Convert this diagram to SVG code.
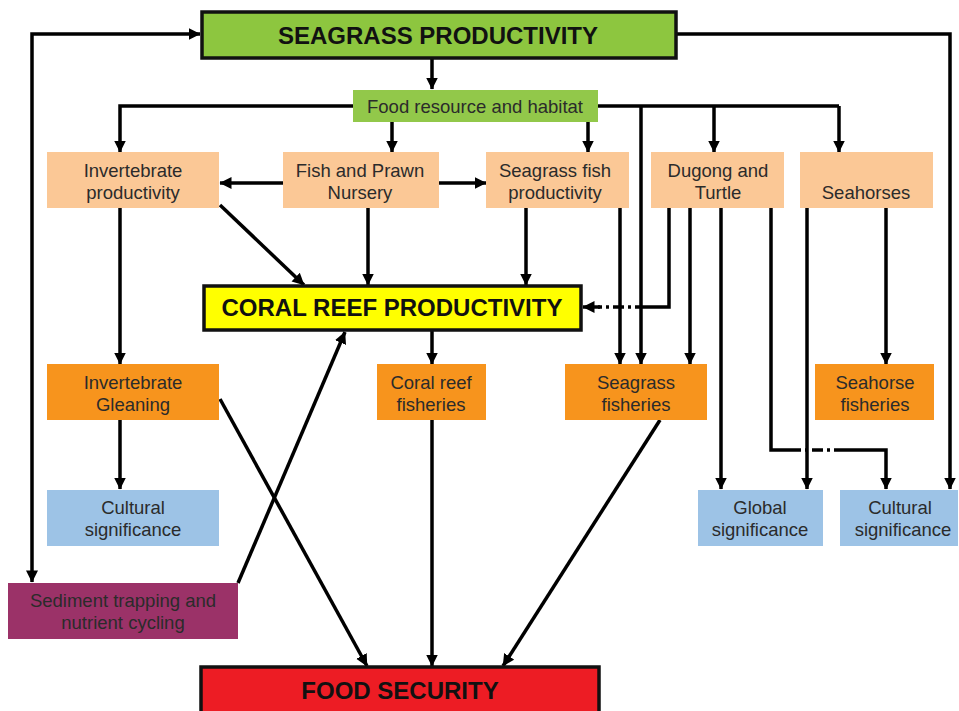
<svg xmlns="http://www.w3.org/2000/svg" width="959" height="711" viewBox="0 0 959 711">
<defs>
<marker id="ah" markerUnits="userSpaceOnUse" markerWidth="13" markerHeight="13" refX="11.5" refY="6" orient="auto">
<path d="M0,0 L12,6 L0,12 z" fill="#000"/>
</marker>
<marker id="as" markerUnits="userSpaceOnUse" markerWidth="13" markerHeight="13" refX="0.5" refY="6" orient="auto">
<path d="M12,0 L0,6 L12,12 z" fill="#000"/>
</marker>
<style>
.ln{fill:none;stroke:#000;stroke-width:3.5}
.ar{marker-end:url(#ah)}
.dd{stroke-dasharray:11,4,3,4}
.big{fill:#000;stroke:#111;stroke-width:3.5}
.t{font-family:"Liberation Sans",Arial,sans-serif;font-size:18.5px;fill:#2b2b2b;text-anchor:middle}
.h{font-family:"Liberation Sans",Arial,sans-serif;font-size:24px;font-weight:bold;fill:#111;text-anchor:middle}
.peach{fill:#fbc896}
.orange{fill:#f7941d}
.blue{fill:#9dc3e6}
</style>
</defs>
<rect width="959" height="711" fill="#fff"/>

<g id="connectors">
<path class="ln ar" d="M32,582 V34 H200" style="marker-start:url(#as)"/>
<path class="ln ar" d="M676,34 H950 V489"/>
<path class="ln ar" d="M432,58 V89"/>
<path class="ln ar" d="M353,106 H120 V152"/>
<path class="ln ar" d="M392,122 V152"/>
<path class="ln ar" d="M588,122 V152"/>
<path class="ln" d="M598,106 H839"/>
<path class="ln ar" d="M839,106 V152"/>
<path class="ln ar" d="M714,106 V152"/>
<path class="ln ar" d="M641,106 V364"/>
<path class="ln ar" d="M283,183 H220"/>
<path class="ln ar" d="M439,183 H486"/>
<path class="ln ar" d="M220,205 L304,285"/>
<path class="ln ar" d="M368,208 V285"/>
<path class="ln ar" d="M526,208 V285"/>
<path class="ln" d="M669,208 V307 H646"/>
<path class="ln dd" d="M646,307 H598"/>
<path class="ln ar" d="M600,307 H583"/>
<path class="ln ar" d="M620,208 V364"/>
<path class="ln ar" d="M690,208 V364"/>
<path class="ln ar" d="M721,208 V489"/>
<path class="ln" d="M771,208 V450 H790"/>
<path class="ln dd" d="M790,450 H836"/>
<path class="ln ar" d="M836,450 H886 V489"/>
<path class="ln ar" d="M807,208 V489"/>
<path class="ln ar" d="M886,208 V364"/>
<path class="ln ar" d="M120,208 V364"/>
<path class="ln ar" d="M432,330 V364"/>
<path class="ln ar" d="M120,420 V489"/>
<path class="ln ar" d="M238,583 L345,332"/>
<path class="ln ar" d="M220,399 L367,666"/>
<path class="ln ar" d="M432,420 V666"/>
<path class="ln ar" d="M660,420 L503,666"/>
</g>

<g id="seagrass-productivity">
<rect x="202" y="12" width="474" height="46" fill="#8dc63f" stroke="#111" stroke-width="3.5"/>
<text class="h" x="438" y="44">SEAGRASS PRODUCTIVITY</text>
</g>
<g id="food-resource">
<rect x="353" y="90" width="245" height="32" fill="#92c84a"/>
<text class="t" x="475" y="113">Food resource and habitat</text>
</g>
<g id="invertebrate-productivity">
<rect class="peach" x="47" y="152" width="172" height="56"/>
<text class="t" x="133" y="177">Invertebrate</text>
<text class="t" x="133" y="199">productivity</text>
</g>
<g id="fish-prawn-nursery">
<rect class="peach" x="283" y="152" width="156" height="56"/>
<text class="t" x="360" y="177">Fish and Prawn</text>
<text class="t" x="360" y="199">Nursery</text>
</g>
<g id="seagrass-fish-productivity">
<rect class="peach" x="486" y="152" width="143" height="56"/>
<text class="t" x="555" y="177">Seagrass fish</text>
<text class="t" x="555" y="199">productivity</text>
</g>
<g id="dugong-turtle">
<rect class="peach" x="651" y="152" width="133" height="56"/>
<text class="t" x="718" y="177">Dugong and</text>
<text class="t" x="718" y="199">Turtle</text>
</g>
<g id="seahorses">
<rect class="peach" x="800" y="152" width="133" height="56"/>
<text class="t" x="866" y="199">Seahorses</text>
</g>
<g id="coral-reef-productivity">
<rect x="204" y="286" width="377" height="44" fill="#ffff00" stroke="#111" stroke-width="3.5"/>
<text class="h" x="392" y="316">CORAL REEF PRODUCTIVITY</text>
</g>
<g id="invertebrate-gleaning">
<rect class="orange" x="47" y="364" width="172" height="56"/>
<text class="t" x="133" y="389">Invertebrate</text>
<text class="t" x="133" y="411">Gleaning</text>
</g>
<g id="coral-reef-fisheries">
<rect class="orange" x="377" y="364" width="109" height="56"/>
<text class="t" x="431" y="389">Coral reef</text>
<text class="t" x="431" y="411">fisheries</text>
</g>
<g id="seagrass-fisheries">
<rect class="orange" x="565" y="364" width="142" height="56"/>
<text class="t" x="636" y="389">Seagrass</text>
<text class="t" x="636" y="411">fisheries</text>
</g>
<g id="seahorse-fisheries">
<rect class="orange" x="815" y="364" width="119" height="56"/>
<text class="t" x="875" y="389">Seahorse</text>
<text class="t" x="875" y="411">fisheries</text>
</g>
<g id="cultural-significance-left">
<rect class="blue" x="47" y="490" width="172" height="56"/>
<text class="t" x="133" y="514">Cultural</text>
<text class="t" x="133" y="536">significance</text>
</g>
<g id="global-significance">
<rect class="blue" x="698" y="490" width="125" height="56"/>
<text class="t" x="760" y="514">Global</text>
<text class="t" x="760" y="536">significance</text>
</g>
<g id="cultural-significance-right">
<rect class="blue" x="840" y="490" width="118" height="56"/>
<text class="t" x="900" y="514">Cultural</text>
<text class="t" x="903" y="536">significance</text>
</g>
<g id="sediment-trapping">
<rect x="8" y="583" width="230" height="56" fill="#9b3268"/>
<text class="t" x="123" y="607">Sediment trapping and</text>
<text class="t" x="123" y="629">nutrient cycling</text>
</g>
<g id="food-security">
<rect x="201" y="667" width="398" height="60" fill="#ed1c24" stroke="#111" stroke-width="3.5"/>
<text class="h" x="400" y="699">FOOD SECURITY</text>
</g>
</svg>
